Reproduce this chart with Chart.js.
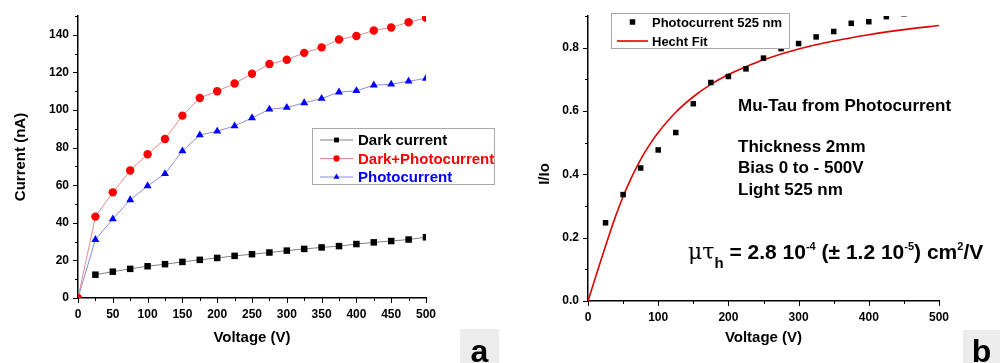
<!DOCTYPE html>
<html>
<head>
<meta charset="utf-8">
<script src="https://cdn.jsdelivr.net/npm/chart.js@4.4.0/dist/chart.umd.min.js"></script>
<style>
  html, body { margin: 0; padding: 0; background: #fff; }
  #wrap { position: relative; width: 1003px; height: 363px; overflow: hidden; }
  .panel { position: absolute; top: 0; }
  #panelA { left: 0; }
  #panelB { left: 500px; }
</style>
</head>
<body>
<div id="wrap">
  <div class="panel" id="panelA"><canvas id="chartA" width="500" height="363"></canvas></div>
  <div class="panel" id="panelB"><canvas id="chartB" width="503" height="363"></canvas></div>
</div>
<script>
// ---- panel a : current vs bias voltage ----
const voltageA = [0, 25, 50, 75, 100, 125, 150, 175, 200, 225, 250, 275, 300, 325, 350, 375, 400, 425, 450, 475, 500];
const darkCurrent = [null, 12.4, 14.0, 15.5, 16.9, 18.0, 19.2, 20.3, 21.3, 22.4, 23.3, 24.2, 25.2, 26.1, 26.9, 27.6, 28.7, 29.6, 30.3, 31.1, 32.3];
const darkPhotoCurrent = [0, 43.3, 56.2, 67.8, 76.5, 84.6, 97.0, 106.4, 110.0, 114.1, 119.3, 124.5, 126.7, 130.4, 133.3, 137.5, 139.4, 142.3, 143.9, 146.7, 149.0];
const photoCurrent = [0, 31.0, 42.0, 52.2, 59.6, 66.1, 78.2, 86.7, 88.7, 91.5, 95.8, 100.4, 101.3, 103.8, 106.1, 109.5, 110.2, 113.2, 113.7, 115.3, 116.8];
const xTicksA = [0, 50, 100, 150, 200, 250, 300, 350, 400, 450, 500];
const yTicksA = [0, 20, 40, 60, 80, 100, 120, 140];

// ---- panel b : normalised photocurrent + Hecht fit ----
const voltageB = [25, 50, 75, 100, 125, 150, 175, 200, 225, 250, 275, 300, 325, 350, 375, 400, 425, 450];
const ratioB = [0.247, 0.336, 0.420, 0.477, 0.532, 0.623, 0.690, 0.709, 0.733, 0.767, 0.797, 0.813, 0.834, 0.851, 0.877, 0.882, 0.898, 0.907];
const fitVoltage = [0, 10, 20, 30, 40, 50, 60, 70, 80, 90, 100, 125, 150, 175, 200, 225, 250, 300, 350, 400, 450, 500];
const fitRatio = [0, 0.070, 0.140, 0.208, 0.272, 0.330, 0.381, 0.426, 0.466, 0.501, 0.532, 0.596, 0.645, 0.684, 0.715, 0.740, 0.762, 0.796, 0.821, 0.841, 0.857, 0.870];
const xTicksB = [0, 100, 200, 300, 400, 500];
const yTicksB = ['0.0', '0.2', '0.4', '0.6', '0.8'];

const FAMILY = '"Liberation Sans", Arial, sans-serif';
const tickFont = { family: FAMILY, size: 12, weight: 'bold' };
const titleFont = { family: FAMILY, size: 15, weight: 'bold' };

function toPoints(xs, ys) {
    return xs.map((x, i) => ({ x: x, y: ys[i] })).filter(p => p.y !== null);
}

// outward tick marks, long where a label is shown, short otherwise
const axisTicks = {
    id: 'axisTicks',
    afterDraw(chart) {
        const ctx = chart.ctx;
        const area = chart.chartArea;
        const xs = chart.scales.x;
        const ys = chart.scales.y;
        ctx.save();
        ctx.strokeStyle = '#000';
        ctx.lineWidth = 1;
        ctx.beginPath();
        xs.ticks.forEach((t, i) => {
            const px = Math.round(xs.getPixelForTick(i)) + 0.5;
            ctx.moveTo(px, area.bottom);
            ctx.lineTo(px, area.bottom + (t.label ? 5 : 3));
        });
        ys.ticks.forEach((t, i) => {
            const py = Math.round(ys.getPixelForTick(i)) + 0.5;
            ctx.moveTo(area.left, py);
            ctx.lineTo(area.left - (t.label ? 5 : 3), py);
        });
        ctx.stroke();
        ctx.restore();
    }
};

// boxed legend, free text and the panel letter
const decor = {
    id: 'decor',
    afterDraw(chart, args, opts) {
        const ctx = chart.ctx;
        ctx.save();
        const lg = opts.legend;
        if (lg) {
            ctx.fillStyle = '#fff';
            ctx.fillRect(lg.x, lg.y, lg.w, lg.h);
            ctx.strokeStyle = '#a8a8a8';
            ctx.lineWidth = 1;
            ctx.strokeRect(lg.x + 0.5, lg.y + 0.5, lg.w, lg.h);
            lg.items.forEach((it, r) => {
                const ds = chart.data.datasets[it.index];
                const y = lg.rowY[r];
                if (ds.showLine !== false) {
                    ctx.strokeStyle = ds.borderColor;
                    ctx.lineWidth = ds.borderWidth;
                    ctx.beginPath();
                    ctx.moveTo(lg.line[0], y);
                    ctx.lineTo(lg.line[1], y);
                    ctx.stroke();
                }
                if (ds.pointRadius > 0) {
                    ctx.fillStyle = ds.pointBackgroundColor;
                    ctx.strokeStyle = ds.pointBorderColor;
                    Chart.helpers.drawPoint(ctx, {
                        pointStyle: ds.pointStyle, rotation: 0,
                        radius: ds.pointRadius * lg.markScale, borderWidth: 0
                    }, (lg.line[0] + lg.line[1]) / 2, y);
                }
                ctx.fillStyle = it.color;
                ctx.font = lg.font;
                ctx.textAlign = 'left';
                ctx.textBaseline = 'middle';
                ctx.fillText(ds.label, lg.textX, y + 1);
            });
        }
        (opts.texts || []).forEach(t => {
            ctx.save();
            ctx.fillStyle = '#000';
            ctx.font = t.font;
            ctx.textBaseline = t.baseline || 'alphabetic';
            ctx.textAlign = t.align || 'left';
            ctx.translate(t.x, t.y);
            if (t.rotate) ctx.rotate(-Math.PI / 2);
            ctx.fillText(t.text, 0, 0);
            ctx.restore();
        });
        if (opts.rich) {
            let x = opts.rich.x;
            ctx.fillStyle = '#000';
            ctx.textAlign = 'left';
            ctx.textBaseline = 'alphabetic';
            opts.rich.parts.forEach(p => {
                ctx.font = p.font;
                ctx.fillText(p.t, x, opts.rich.y + p.dy);
                x += ctx.measureText(p.t).width;
            });
        }
        if (opts.letter) {
            const L = opts.letter;
            ctx.fillStyle = '#ececec';
            ctx.fillRect(L.x, L.y, L.w, L.h);
            ctx.fillStyle = '#000';
            ctx.font = 'bold 32px ' + FAMILY;
            ctx.textAlign = 'center';
            ctx.textBaseline = 'alphabetic';
            ctx.fillText(L.text, L.x + L.w / 2, L.y + L.h - 1);
        }
        ctx.restore();
    }
};

function axisOptions(extra) {
    return Object.assign({
        type: 'linear',
        grid: { drawOnChartArea: false, tickLength: 5, color: 'transparent' },
        border: { color: '#000', width: 1.5 }
    }, extra);
}

// ---------------- chart a ----------------
new Chart(document.getElementById('chartA'), {
    type: 'scatter',
    data: {
        datasets: [{
            label: 'Dark current',
            data: toPoints(voltageA, darkCurrent),
            showLine: true, borderColor: '#808080', borderWidth: 1,
            pointStyle: 'rect', pointRadius: 4.6, pointBorderWidth: 0,
            pointBackgroundColor: '#000', pointBorderColor: '#000', clip: 0
        }, {
            label: 'Dark+Photocurrent',
            data: toPoints(voltageA, darkPhotoCurrent),
            showLine: true, borderColor: '#e58c8c', borderWidth: 1,
            pointStyle: 'circle', pointRadius: 4.2, pointBorderWidth: 0,
            pointBackgroundColor: '#ff0000', pointBorderColor: '#ff0000', clip: 0
        }, {
            label: 'Photocurrent',
            data: toPoints(voltageA, photoCurrent),
            showLine: true, borderColor: '#8c8ce0', borderWidth: 1,
            pointStyle: 'triangle', pointRadius: 4.6, pointBorderWidth: 0,
            pointBackgroundColor: '#0000ff', pointBorderColor: '#0000ff', clip: 0
        }]
    },
    options: {
        responsive: false,
        animation: false,
        layout: { padding: { top: 16, right: 74, bottom: 0, left: 0 } },
        plugins: {
            legend: { display: false },
            tooltip: { enabled: false },
            decor: {
                legend: {
                    x: 312, y: 128, w: 182, h: 56, rowY: [140, 158.5, 177],
                    line: [320, 353], textX: 358, markScale: 0.75,
                    font: 'bold 15px ' + FAMILY,
                    items: [{ index: 0, color: '#000' }, { index: 1, color: '#ff0000' }, { index: 2, color: '#0000ff' }]
                },
                letter: { x: 460, y: 329, w: 39, h: 34, text: 'a' }
            }
        },
        scales: {
            x: axisOptions({
                min: 0, max: 500,
                afterFit: s => { s.height = 65; },
                ticks: {
                    stepSize: 25, autoSkip: false, maxRotation: 0, padding: 4,
                    color: '#000', font: tickFont,
                    callback: v => xTicksA.includes(v) ? String(v) : ''
                },
                title: { display: true, text: 'Voltage (V)', color: '#000', font: titleFont, padding: { top: 0, bottom: 16 } }
            }),
            y: axisOptions({
                min: 0, max: 150,
                afterFit: s => { s.width = 78; },
                ticks: {
                    stepSize: 10, autoSkip: false, padding: 4,
                    color: '#000', font: tickFont,
                    callback: v => yTicksA.includes(v) ? String(v) : ''
                },
                title: { display: true, text: 'Current (nA)', color: '#000', font: titleFont, padding: { top: 12, bottom: 0 } }
            })
        }
    },
    plugins: [axisTicks, decor]
});

// ---------------- chart b ----------------
const bigFont = 'bold 21px ' + FAMILY;
const supFont = 'bold 11px ' + FAMILY;
const noteFont = 'bold 17px ' + FAMILY;

new Chart(document.getElementById('chartB'), {
    type: 'scatter',
    data: {
        datasets: [{
            label: 'Photocurrent 525 nm',
            data: toPoints(voltageB, ratioB),
            showLine: false,
            pointStyle: 'rect', pointRadius: 3.9, pointBorderWidth: 0,
            pointBackgroundColor: '#000', pointBorderColor: '#000', clip: 0
        }, {
            label: 'Hecht Fit',
            data: toPoints(fitVoltage, fitRatio),
            showLine: true, borderColor: '#e00000', borderWidth: 1.6,
            cubicInterpolationMode: 'monotone',
            pointRadius: 0, clip: 0
        }]
    },
    options: {
        responsive: false,
        animation: false,
        layout: { padding: { top: 16, right: 64, bottom: 0, left: 0 } },
        plugins: {
            legend: { display: false },
            tooltip: { enabled: false },
            decor: {
                legend: {
                    x: 111, y: 13, w: 178, h: 35, rowY: [22, 41],
                    line: [117, 148], textX: 152, markScale: 1,
                    font: 'bold 13px ' + FAMILY,
                    items: [{ index: 0, color: '#000' }, { index: 1, color: '#000' }]
                },
                texts: [
                    { text: 'I/Io', x: 45, y: 174, font: 'bold 15px ' + FAMILY, rotate: true, align: 'center', baseline: 'middle' },
                    { text: 'Mu-Tau from Photocurrent', x: 238, y: 111, font: noteFont },
                    { text: 'Thickness 2mm', x: 238, y: 152, font: noteFont },
                    { text: 'Bias 0 to - 500V', x: 238, y: 173, font: noteFont },
                    { text: 'Light 525 nm', x: 238, y: 195, font: noteFont }
                ],
                rich: {
                    x: 188, y: 259,
                    parts: [
                        { t: '\u03bc\u03c4', font: '22px "DejaVu Serif", serif', dy: 0 },
                        { t: 'h', font: 'bold 15px ' + FAMILY, dy: 9 },
                        { t: ' = 2.8 10', font: bigFont, dy: 0 },
                        { t: '-4', font: supFont, dy: -9 },
                        { t: ' (\u00b1 1.2 10', font: bigFont, dy: 0 },
                        { t: '-5', font: supFont, dy: -9 },
                        { t: ') cm', font: bigFont, dy: 0 },
                        { t: '2', font: supFont, dy: -9 },
                        { t: '/V', font: bigFont, dy: 0 }
                    ]
                },
                letter: { x: 463, y: 330, w: 37, h: 33, text: 'b' }
            }
        },
        scales: {
            x: axisOptions({
                min: 0, max: 500,
                afterFit: s => { s.height = 62; },
                ticks: {
                    stepSize: 50, autoSkip: false, maxRotation: 0, padding: 4,
                    color: '#000', font: tickFont,
                    callback: v => xTicksB.includes(v) ? String(v) : ''
                },
                title: { display: true, text: 'Voltage (V)', color: '#000', font: titleFont, padding: { top: 0, bottom: 16 } }
            }),
            y: axisOptions({
                min: 0, max: 0.9,
                afterFit: s => { s.width = 88; },
                ticks: {
                    stepSize: 0.1, autoSkip: false, padding: 4,
                    color: '#000', font: tickFont,
                    callback: v => yTicksB.includes(v.toFixed(1)) ? v.toFixed(1) : ''
                }
            })
        }
    },
    plugins: [axisTicks, decor]
});
</script>
</body>
</html>
